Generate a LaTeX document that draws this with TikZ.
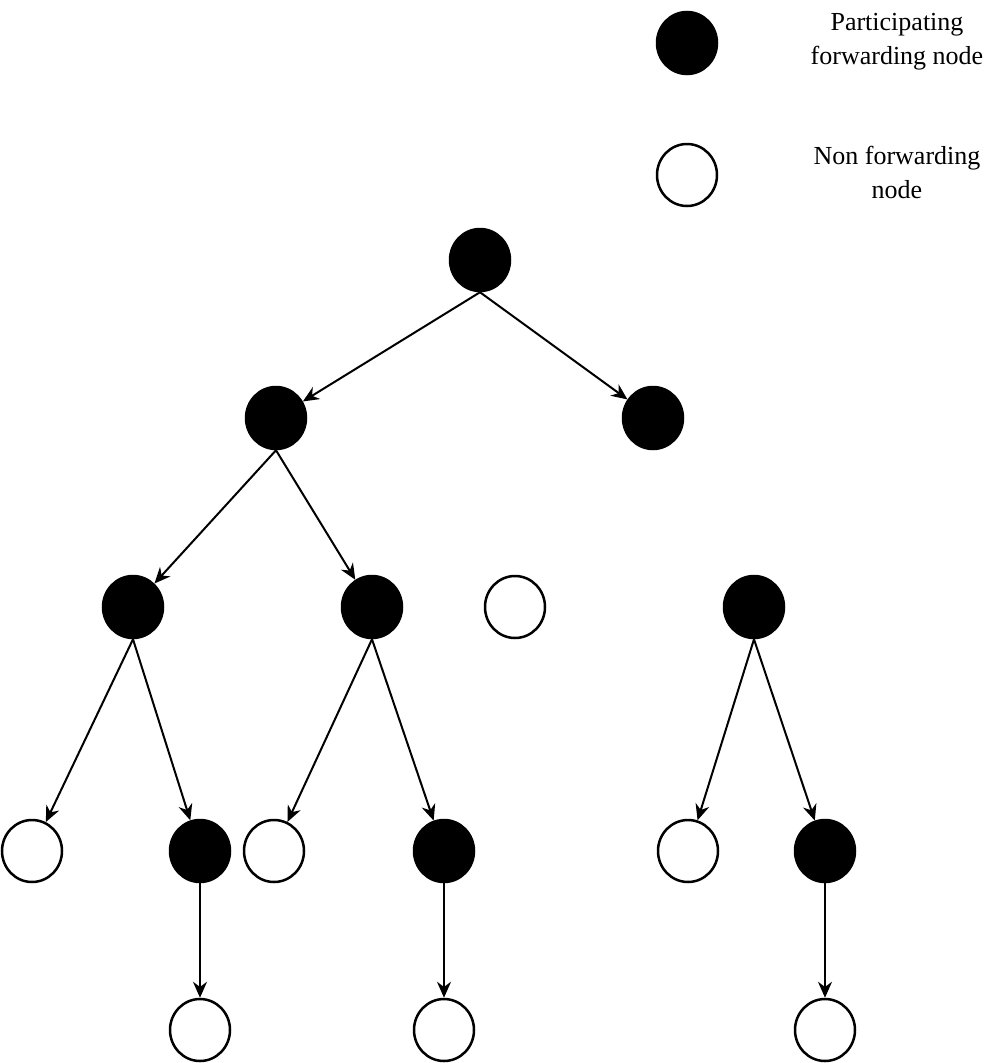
\documentclass[tikz,border=0pt]{standalone}
\usepackage{fontspec}
\setmainfont{Liberation Serif}
\usetikzlibrary{arrows.meta,shapes.geometric}
\begin{document}
\begin{tikzpicture}[x=1pt,y=-1pt,
  fnode/.style={ellipse,draw=black,line width=2.5pt,fill=black,minimum width=60pt,minimum height=62pt,inner sep=0pt},
  onode/.style={ellipse,draw=black,line width=2.5pt,fill=white,minimum width=60pt,minimum height=62pt,inner sep=0pt},
  lab/.style={align=center,font=\fontsize{26}{34}\selectfont},
  conn/.style={line width=2pt,-{Stealth[length=16pt,width=14pt]}}]
\useasboundingbox (0,0) rectangle (1008,1063);
\node[fnode] (lf) at (687,43) {};
\node[onode] (lo) at (687,175) {};
\node[lab] (lt1) at (897,42) {Participating\\forwarding node};
\node[lab] (lt2) at (897,172) {Non forwarding\\node};
\node[fnode] (r) at (480,260) {};
\node[fnode] (a) at (276,418) {};
\node[fnode] (b) at (653,418) {};
\node[fnode] (c) at (133,607) {};
\node[fnode] (d) at (372,607) {};
\node[onode] (e) at (515,607) {};
\node[fnode] (f) at (754,607) {};
\node[onode] (g1) at (32,851) {};
\node[fnode] (g2) at (200,851) {};
\node[onode] (g3) at (274,851) {};
\node[fnode] (g4) at (444,851) {};
\node[onode] (g5) at (688,851) {};
\node[fnode] (g6) at (825,851) {};
\node[onode] (h1) at (200,1030) {};
\node[onode] (h2) at (444,1030) {};
\node[onode] (h3) at (825,1030) {};
\draw[conn] (r.south) -- (a);
\draw[conn] (r.south) -- (b);
\draw[conn] (a.south) -- (c);
\draw[conn] (a.south) -- (d);
\draw[conn] (c.south) -- (g1);
\draw[conn] (c.south) -- (g2);
\draw[conn] (d.south) -- (g3);
\draw[conn] (d.south) -- (g4);
\draw[conn] (f.south) -- (g5);
\draw[conn] (f.south) -- (g6);
\draw[conn] (g2) -- (h1);
\draw[conn] (g4) -- (h2);
\draw[conn] (g6) -- (h3);
\end{tikzpicture}
\end{document}
